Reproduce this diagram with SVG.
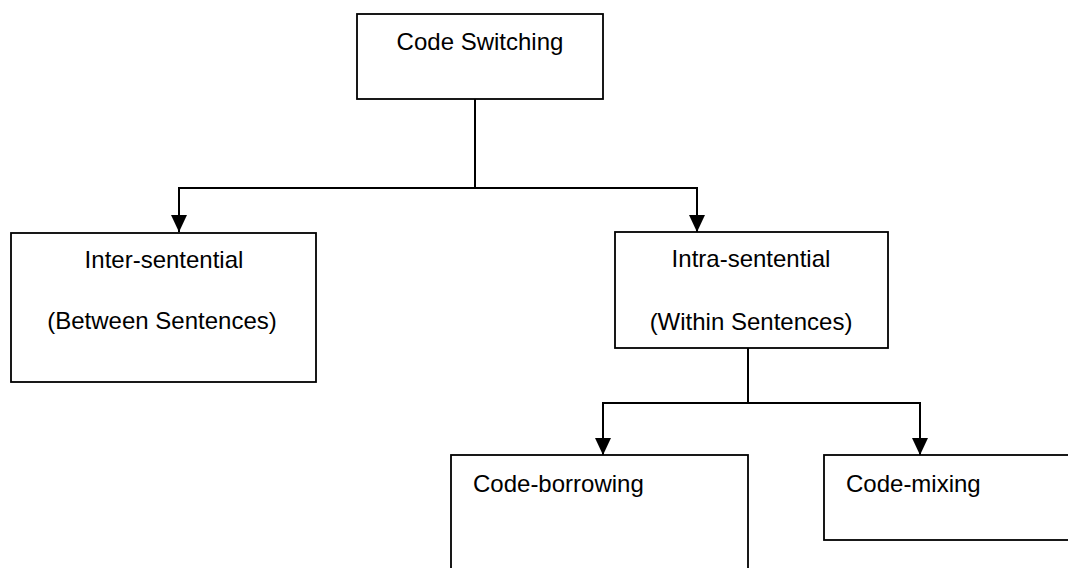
<svg xmlns="http://www.w3.org/2000/svg" width="1068" height="568" viewBox="0 0 1068 568">
<defs>
<style>
.box{fill:#fff;stroke:#000;stroke-width:1.8}
.ln{fill:none;stroke:#000;stroke-width:2}
.t{font-family:"Liberation Sans",Arial,sans-serif;font-size:24px;fill:#000}
.c{text-anchor:middle}
</style>
<marker id="ah" viewBox="0 0 16 17" refX="8" refY="17" markerWidth="16" markerHeight="17" markerUnits="userSpaceOnUse">
<path d="M0,0 L16,0 L8,17 Z" fill="#000"/>
</marker>
</defs>
<rect width="1068" height="568" fill="#fff"/>
<g id="connectors">
<path class="ln" d="M475,99 V188"/>
<path class="ln" d="M475,188 H179 V232" marker-end="url(#ah)"/>
<path class="ln" d="M475,188 H697 V232" marker-end="url(#ah)"/>
<path class="ln" d="M748,348 V403"/>
<path class="ln" d="M748,403 H603 V455" marker-end="url(#ah)"/>
<path class="ln" d="M748,403 H920 V455" marker-end="url(#ah)"/>
</g>
<g id="code-switching">
<rect class="box" x="357" y="14" width="246" height="85"/>
<text class="t c" x="480" y="50">Code Switching</text>
</g>
<g id="inter-sentential">
<rect class="box" x="11" y="233" width="305" height="149"/>
<text class="t c" x="164" y="268">Inter-sentential</text>
<text class="t c" x="162" y="329">(Between Sentences)</text>
</g>
<g id="intra-sentential">
<rect class="box" x="615" y="232" width="273" height="116"/>
<text class="t c" x="751" y="267">Intra-sentential</text>
<text class="t c" x="751" y="330">(Within Sentences)</text>
</g>
<g id="code-borrowing">
<rect class="box" x="451" y="455" width="297" height="125"/>
<text class="t" x="473" y="492">Code-borrowing</text>
</g>
<g id="code-mixing">
<rect class="box" x="824" y="455" width="250" height="85"/>
<text class="t" x="846" y="492">Code-mixing</text>
</g>
</svg>
